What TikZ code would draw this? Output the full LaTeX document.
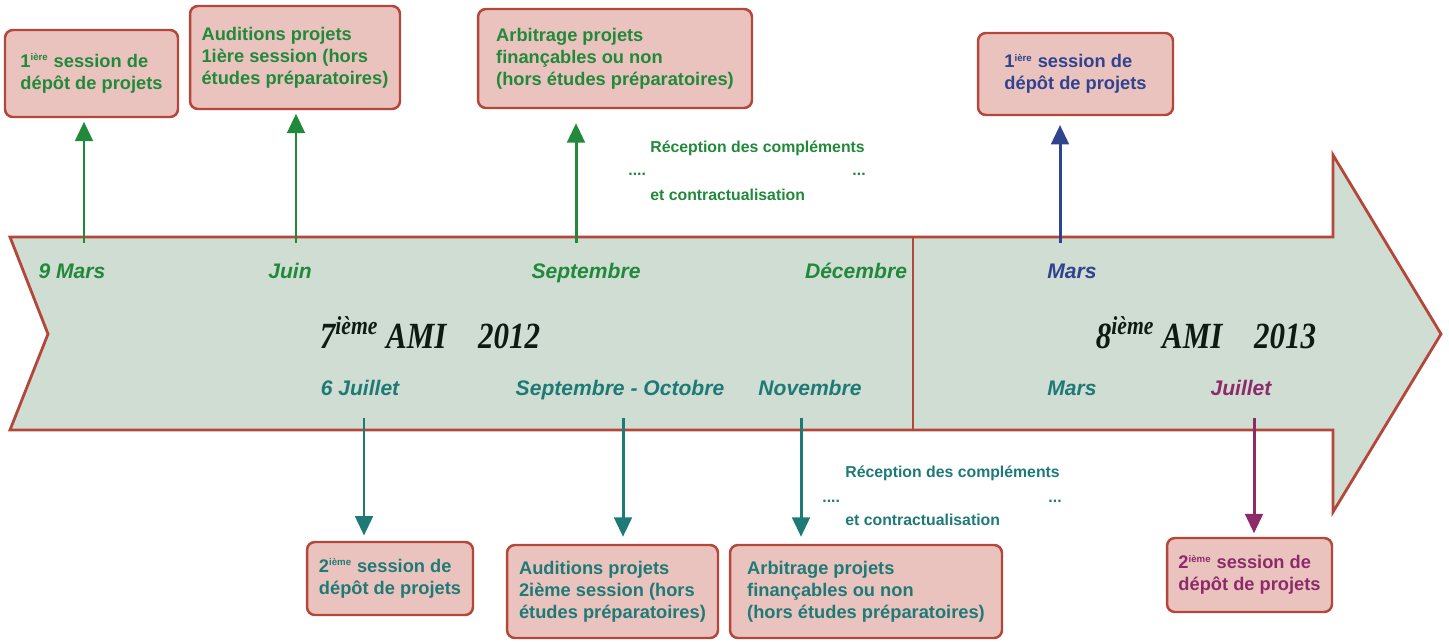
\documentclass[tikz,border=0pt]{standalone}
\usepackage{fontspec}
\setmainfont{Liberation Sans}
\newfontfamily\titlefont[FakeStretch=0.84]{Liberation Serif}
\usepackage{tikz}
\usetikzlibrary{arrows.meta}

\definecolor{vert}{HTML}{21893A}
\definecolor{sarcelle}{HTML}{1E7A76}
\definecolor{bleu}{HTML}{30438F}
\definecolor{prune}{HTML}{8D2B6A}
\definecolor{cadre}{HTML}{B4473A}
\definecolor{fond}{HTML}{CFDDD2}
\definecolor{rose}{HTML}{EAC3BF}
\definecolor{encre}{HTML}{0F1A12}

\newcommand\expo[1]{\textsuperscript{\fontsize{5.5}{6}\selectfont #1}}

\begin{document}
\begin{tikzpicture}[x=0.02cm, y=-0.02cm,
  evt/.style={draw=cadre, fill=rose, line width=1.4pt, rounded corners=4.5pt,
    align=left, inner sep=0pt, font=\bfseries\fontsize{10.4}{12.6}\selectfont},
  mois/.style={anchor=base, inner sep=0pt,
    font=\bfseries\itshape\fontsize{12}{14}\selectfont},
  note/.style={anchor=base west, inner sep=0pt,
    font=\bfseries\fontsize{9}{11}\selectfont},
  titre/.style={anchor=base, inner sep=0pt, text=encre,
    font=\titlefont\bfseries\itshape\fontsize{21}{24}\selectfont},
  fleche/.style={line width=1.7pt, -{Triangle[width=10pt,length=11pt]}}]
\useasboundingbox (0,0) rectangle (1449,642);

% la grande fleche
\draw[draw=cadre, fill=fond, line width=1.6pt, line join=miter]
  (10,237) -- (1333,237) -- (1333,155) -- (1441,334) -- (1333,512)
  -- (1333,430) -- (10,430) -- (48,334) -- cycle;
\draw[cadre, line width=1.6pt] (913,237) -- (913,430);

% boites du haut
\node[evt, text=vert, minimum width=3.46cm, minimum height=1.74cm] (depot1) at (91.5,73.5)
  {1\expo{ière} session de\\dépôt de projets};
\node[evt, text=vert, minimum width=4.2cm, minimum height=2.06cm] (audit1) at (295,57.5)
  {Auditions projets\\1ière session (hors\\études préparatoires)};
\node[evt, text=vert, minimum width=5.48cm, minimum height=1.98cm] (arbit1) at (615,58.5)
  {Arbitrage projets\\finançables ou non\\(hors études préparatoires)};
\node[evt, text=bleu, minimum width=3.9cm, minimum height=1.64cm] (depot3) at (1075.5,74)
  {1\expo{ière} session de\\dépôt de projets};

% boites du bas
\node[evt, text=sarcelle, minimum width=3.32cm, minimum height=1.46cm] (depot2) at (390,578.5)
  {2\expo{ième} session de\\dépôt de projets};
\node[evt, text=sarcelle, minimum width=4.22cm, minimum height=1.86cm] (audit2) at (612.5,591.5)
  {Auditions projets\\2ième session (hors\\études préparatoires)};
\node[evt, text=sarcelle, minimum width=5.44cm, minimum height=1.86cm] (arbit2) at (866,591.5)
  {Arbitrage projets\\finançables ou non\\(hors études préparatoires)};
\node[evt, text=prune, minimum width=3.3cm, minimum height=1.48cm] (depot4) at (1249.5,575)
  {2\expo{ième} session de\\dépôt de projets};

% dates
\node[mois, text=vert] (mars12) at (72,278) {9 Mars};
\node[mois, text=vert] (juin) at (290,278) {Juin};
\node[mois, text=vert] (sept) at (586,278) {Septembre};
\node[mois, text=vert] (dec) at (856,278) {Décembre};
\node[mois, text=bleu] (mars13) at (1072,278) {Mars};
\node[mois, text=sarcelle] (juil12) at (360,395) {6 Juillet};
\node[mois, text=sarcelle] (septoct) at (620,395) {Septembre - Octobre};
\node[mois, text=sarcelle] (nov) at (810,395) {Novembre};
\node[mois, text=sarcelle] (marsb) at (1072,395) {Mars};
\node[mois, text=prune] (juil13) at (1241,395) {Juillet};

\node[titre] (ami7) at (430,348) {7\textsuperscript{ième} AMI\hspace{18pt}2012};
\node[titre] (ami8) at (1206,348) {8\textsuperscript{ième} AMI\hspace{18pt}2013};

% receptions
\node[note, text=vert] (recep1) at (650,152) {Réception des compléments};
\node[note, text=vert] (contr1) at (650,200) {et contractualisation};
\node[note, text=vert] (pts1) at (628,175) {....};
\node[note, text=vert, anchor=base east] (pts2) at (866,175) {...};
\node[note, text=sarcelle] (recep2) at (845,477) {Réception des compléments};
\node[note, text=sarcelle] (contr2) at (845,525) {et contractualisation};
\node[note, text=sarcelle] (pts3) at (822,502) {....};
\node[note, text=sarcelle, anchor=base east] (pts4) at (1062,502) {...};

% fleches
\coordinate (t1) at (84,243);
\coordinate (t2) at (296,243);
\coordinate (t3) at (576,243);
\coordinate (t4) at (1060,243);
\coordinate (t5) at (364,418);
\coordinate (t6) at (623,418);
\coordinate (t7) at (801,418);
\coordinate (t8) at (1254,418);
\draw[fleche, vert, shorten >=2pt] (t1) -- (t1 |- depot1.south);
\draw[fleche, vert, shorten >=2pt] (t2) -- (t2 |- audit1.south);
\draw[fleche, vert, shorten >=8pt] (t3) -- (t3 |- arbit1.south);
\draw[fleche, bleu, shorten >=5pt] (t4) -- (t4 |- depot3.south);
\draw[fleche, sarcelle, shorten >=3pt] (t5) -- (t5 |- depot2.north);
\draw[fleche, sarcelle, shorten >=4pt] (t6) -- (t6 |- audit2.north);
\draw[fleche, sarcelle, shorten >=4pt] (t7) -- (t7 |- arbit2.north);
\draw[fleche, prune, shorten >=2pt] (t8) -- (t8 |- depot4.north);
\end{tikzpicture}
\end{document}
